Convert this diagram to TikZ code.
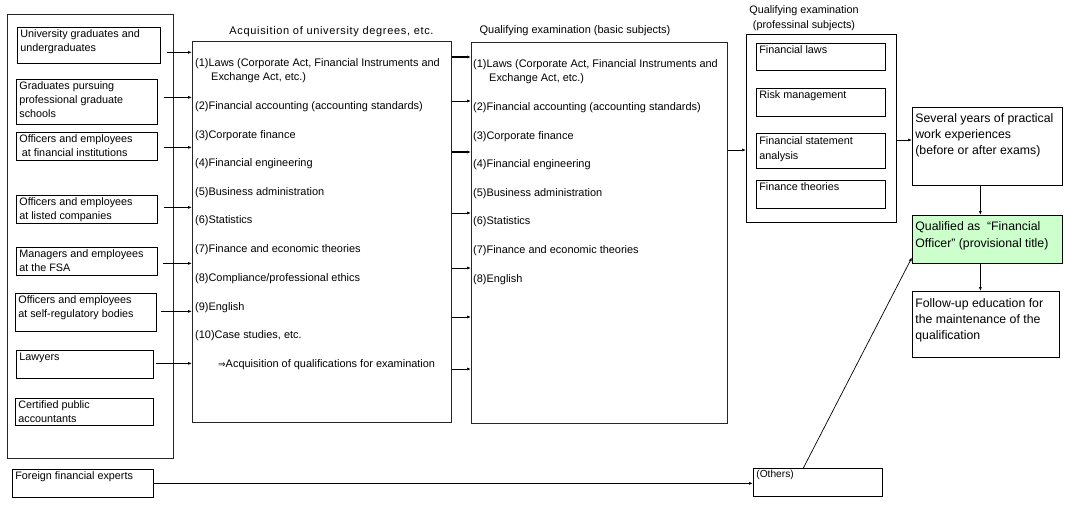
\documentclass[tikz,border=0pt]{standalone}
\usepackage{fontspec}
\setmainfont{Liberation Sans}
\usetikzlibrary{arrows.meta,calc}
\newcommand\bxt[3]{\parbox[t][#2][t]{#1}{\raggedright\strut #3}}
\definecolor{qualgreen}{RGB}{204,255,204}
\begin{document}
\begin{tikzpicture}[x=1pt,y=-1pt,
  box/.style={draw=black, line width=0.7pt, anchor=north west, inner xsep=3pt, inner ysep=0.5pt,
    font=\fontsize{10.8}{14}\selectfont},
  bigbox/.style={draw=black!85, line width=0.7pt, anchor=north west, inner sep=0pt},
  rbox/.style={draw=black, line width=0.7pt, anchor=north west, inner xsep=3pt,
    font=\fontsize{12.3}{16.4}\selectfont},
  item/.style={anchor=base west, inner sep=0pt, font=\fontsize{10.95}{14}\selectfont},
  ttl/.style={anchor=base, inner sep=0pt, font=\fontsize{10.8}{15}\selectfont},
  arr/.style={draw=black, line width=0.7pt, -{Latex[length=4pt,width=3pt]}},
  arrthick/.style={arr, line width=1.1pt}]
\useasboundingbox (0,0) rectangle (1066,504);

% left group
\node[bigbox, minimum width=166pt, minimum height=444pt] (grp) at (7,14) {};
\node[box] (uni) at (17,27) {\bxt{137pt}{35pt}{University graduates and\\undergraduates}};
\node[box] (grad) at (16,79) {\bxt{135pt}{44pt}{Graduates pursuing\\professional graduate\\schools}};
\node[box] (fin) at (16,132) {\bxt{135pt}{27pt}{Officers and employees\\\hspace*{2.5pt}at financial institutions}};
\node[box] (listed) at (16,195) {\bxt{135pt}{27pt}{Officers and employees\\at listed companies}};
\node[box] (fsa) at (16,247) {\bxt{135pt}{27pt}{Managers and employees\\at the FSA}};
\node[box] (sro) at (15,293) {\bxt{135pt}{37pt}{Officers and employees\\at self-regulatory bodies}};
\node[box] (law) at (16,350) {\bxt{131pt}{27pt}{Lawyers}};
\node[box] (cpa) at (15,398) {\bxt{132pt}{26pt}{Certified public\\accountants}};
\node[box] (foreign) at (12,469) {\bxt{135pt}{27pt}{Foreign financial experts}};

% acquisition box
\node[bigbox, minimum width=259pt, minimum height=381pt] (acq) at (192,41) {};
\node[ttl, font=\fontsize{11}{15}\selectfont\addfontfeature{LetterSpace=6}] (acqt) at (331.5,34) {Acquisition of university degrees, etc.};
\node[item] (a1) at (195,66) {(1)Laws (Corporate Act, Financial Instruments and};
\node[item] (a1b) at (211,80) {Exchange Act, etc.)};
\node[item] (a2) at (195,109) {(2)Financial accounting (accounting standards)};
\node[item] (a3) at (195,138) {(3)Corporate finance};
\node[item] (a4) at (195,166.5) {(4)Financial engineering};
\node[item] (a5) at (195,195) {(5)Business administration};
\node[item] (a6) at (195,223.5) {(6)Statistics};
\node[item] (a7) at (195,252.5) {(7)Finance and economic theories};
\node[item] (a8) at (195,281) {(8)Compliance/professional ethics};
\node[item] (a9) at (195,310) {(9)English};
\node[item] (a10) at (195,338.5) {(10)Case studies, etc.};
\node[item] (a11) at (218,367) {\fontspec{DejaVu Sans}\fontsize{9}{14}\selectfont⇒\fontspec{Liberation Sans}\fontsize{10.95}{14}\selectfont Acquisition of qualifications for examination};

% qualifying exam basic
\node[bigbox, minimum width=256pt, minimum height=381pt] (exam) at (471,42) {};
\node[ttl, font=\fontsize{11}{15}\selectfont] (examt) at (575,33) {Qualifying examination (basic subjects)};
\node[item] (e1) at (473,67) {(1)Laws (Corporate Act, Financial Instruments and};
\node[item] (e1b) at (489,81) {Exchange Act, etc.)};
\node[item] (e2) at (473,110) {(2)Financial accounting (accounting standards)};
\node[item] (e3) at (473,139) {(3)Corporate finance};
\node[item] (e4) at (473,167.5) {(4)Financial engineering};
\node[item] (e5) at (473,196) {(5)Business administration};
\node[item] (e6) at (473,224.5) {(6)Statistics};
\node[item] (e7) at (473,253.5) {(7)Finance and economic theories};
\node[item] (e8) at (473,282) {(8)English};

% professional subjects
\node[bigbox, draw=black, minimum width=150pt, minimum height=188pt] (prof) at (746,34) {};
\node[ttl] (proft1) at (804,13.3) {Qualifying examination};
\node[ttl] (proft2) at (804,28.3) {(professinal subjects)};
\node[box] (flaw) at (756,43) {\bxt{123pt}{26pt}{Financial laws}};
\node[box] (risk) at (756,88) {\bxt{123pt}{27pt}{Risk management}};
\node[box, font=\fontsize{10.8}{15}\selectfont] (fsan) at (756,133) {\bxt{123pt}{34pt}{Financial statement\\analysis}};
\node[box] (fth) at (756,180) {\bxt{123pt}{27pt}{Finance theories}};

% right column
\node[rbox, inner ysep=3.2pt] (work) at (912,107) {\bxt{144pt}{71.6pt}{Several years of practical\\work experiences\\(before or after exams)}};
\node[rbox, inner ysep=4pt, fill=qualgreen] (qual) at (912,215) {\bxt{144pt}{40pt}{Qualified as \ “Financial\\Officer” (provisional title)}};
\node[rbox, inner ysep=4.2pt] (follow) at (912,291) {\bxt{141pt}{57.6pt}{Follow-up education for\\the maintenance of the\\qualification}};
\node[box, inner ysep=0.2pt, font=\fontsize{10.2}{13}\selectfont] (others) at (753,468) {\bxt{123pt}{27.6pt}{(Others)}};

% arrows: left group -> acquisition
\coordinate (l1) at ([shift={(6,7)}]uni.east);
\coordinate (l2) at ([shift={(6,-4.5)}]grad.east);
\coordinate (l3) at ([shift={(6,1)}]fin.east);
\coordinate (l4) at ([shift={(6,-2)}]listed.east);
\coordinate (l5) at ([shift={(5,2)}]fsa.east);
\coordinate (l6) at ([shift={(4,-1)}]sro.east);
\coordinate (l7) at ([shift={(2,-1)}]law.east);
\draw[arrthick] (l1) -- (l1 -| acq.west);
\foreach \c in {l2,l3,l4,l5,l6,l7} \draw[arr] (\c) -- (\c -| acq.west);

% arrows: acquisition -> exam
\foreach \d/\n in {16/m1,60/m2,111/m3,172/m4,227/m5,276/m6,328/m7}
  \coordinate (\n) at ($(acq.north east)+(0,\d)$);
\draw[arrthick] (m1) -- (m1 -| exam.west);
\draw[arr] (m2) -- (m2 -| exam.west);
\draw[arrthick] (m3) -- (m3 -| exam.west);
\foreach \c in {m4,m5,m6,m7} \draw[arr] (\c) -- (\c -| exam.west);

% exam -> prof -> work -> qual -> follow
\coordinate (p1) at ($(exam.north east)+(0,108)$);
\draw[arr] (p1) -- (p1 -| prof.west);
\coordinate (p2) at ($(prof.north east)+(0,106)$);
\draw[arr] (p2) -- (p2 -| work.west);
\coordinate (p3) at ([xshift=-7pt]work.south);
\draw[arr] (p3) -- (p3 |- qual.north);
\coordinate (p4) at ([xshift=-7pt]qual.south);
\draw[arr] (p4) -- (p4 |- follow.north);

% foreign -> others -> qual
\draw[arr, line width=1.5pt] (foreign.east) -- (foreign.east -| others.west);
\draw[arr] ([xshift=-14.5pt]others.north) -- ([yshift=-18pt]qual.west);
\end{tikzpicture}
\end{document}
